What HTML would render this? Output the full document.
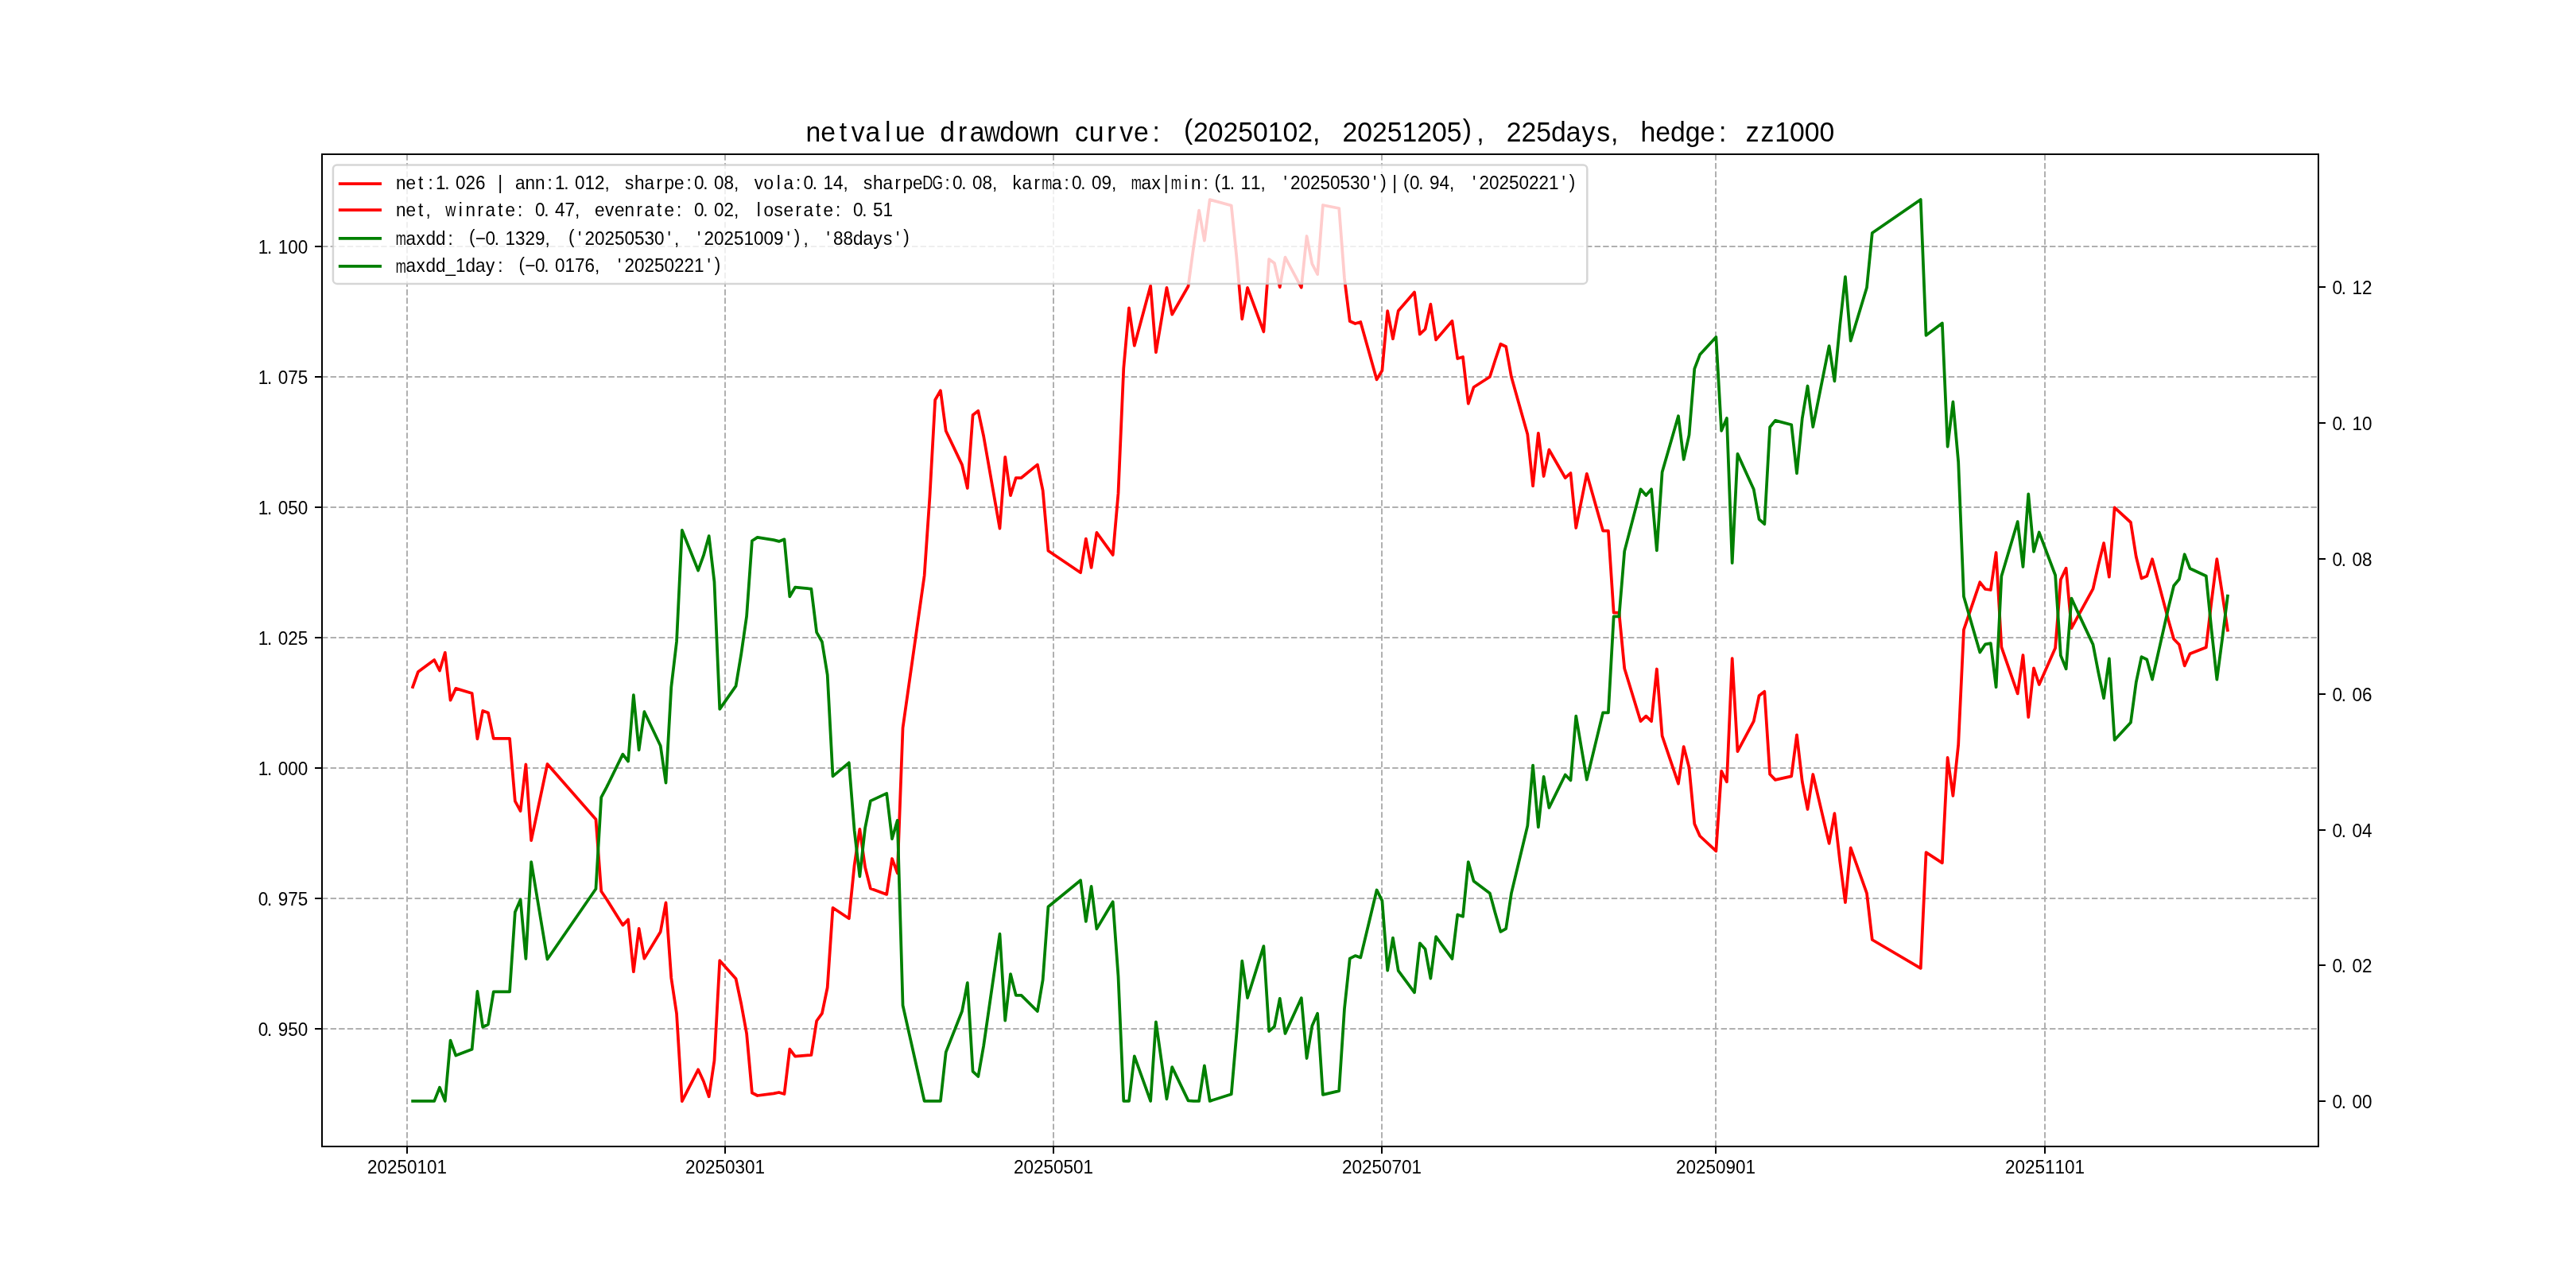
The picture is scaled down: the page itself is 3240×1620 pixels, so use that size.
<!DOCTYPE html><html><head><meta charset="utf-8"><style>html,body{margin:0;padding:0;background:#fff;overflow:hidden}svg{display:block;will-change:transform}</style></head><body><svg width="3240" height="1620" viewBox="0 0 3240 1620" font-family="&quot;Liberation Sans&quot;, sans-serif"><rect x="0" y="0" width="3240" height="1620" fill="#fff"/><g stroke="#b0b0b0" stroke-width="2" stroke-dasharray="7.4 3.2" fill="none"><path d="M512,1442 L512,194"/><path d="M912,1442 L912,194"/><path d="M1325,1442 L1325,194"/><path d="M1738,1442 L1738,194"/><path d="M2158,1442 L2158,194"/><path d="M2572,1442 L2572,194"/><path d="M405,310 L2916,310"/><path d="M405,474 L2916,474"/><path d="M405,638 L2916,638"/><path d="M405,802 L2916,802"/><path d="M405,966 L2916,966"/><path d="M405,1130 L2916,1130"/><path d="M405,1294 L2916,1294"/></g><path d="M519.14,864.00 L525.91,845.00 L546.23,830.00 L553.00,843.50 L559.78,820.80 L566.55,880.70 L573.33,865.90 L593.65,872.00 L600.42,929.30 L607.19,894.00 L613.97,896.50 L620.74,928.80 L641.06,928.80 L647.84,1007.60 L654.61,1020.00 L661.38,961.50 L668.16,1057.20 L688.48,961.00 L749.44,1030.50 L756.21,1121.00 L762.99,1131.00 L783.31,1163.60 L790.08,1156.60 L796.86,1222.20 L803.63,1167.80 L810.40,1205.60 L830.73,1172.00 L837.50,1135.40 L844.27,1230.00 L851.05,1275.00 L857.82,1385.10 L878.14,1345.30 L884.91,1360.00 L891.69,1379.30 L898.46,1334.00 L905.24,1208.20 L925.56,1231.00 L932.33,1263.00 L939.10,1300.00 L945.88,1374.50 L952.65,1378.00 L972.97,1375.40 L979.75,1374.00 L986.52,1376.00 L993.29,1319.50 L1000.07,1328.60 L1020.39,1327.00 L1027.16,1284.00 L1033.94,1274.70 L1040.71,1242.00 L1047.48,1141.80 L1067.80,1155.20 L1074.58,1088.50 L1081.35,1042.80 L1088.12,1090.80 L1094.90,1117.50 L1115.22,1124.90 L1121.99,1080.00 L1128.77,1098.20 L1135.54,915.40 L1162.63,724.00 L1169.41,625.00 L1176.18,503.00 L1182.96,491.30 L1189.73,542.00 L1210.05,584.60 L1216.82,614.00 L1223.60,522.00 L1230.37,516.80 L1237.15,548.50 L1257.47,664.60 L1264.24,574.80 L1271.01,623.10 L1277.79,601.00 L1284.56,601.00 L1304.88,584.40 L1311.66,617.00 L1318.43,692.80 L1359.07,720.20 L1365.85,677.60 L1372.62,713.90 L1379.39,669.80 L1399.71,697.90 L1406.49,620.70 L1413.26,463.40 L1420.03,387.40 L1426.81,434.70 L1447.13,359.60 L1453.90,443.20 L1460.68,403.00 L1467.45,361.80 L1474.22,395.50 L1494.54,360.00 L1501.32,310.00 L1508.09,264.70 L1514.87,302.60 L1521.64,251.10 L1548.73,258.50 L1555.51,325.00 L1562.28,401.30 L1569.06,361.80 L1589.38,417.20 L1596.15,326.00 L1602.92,331.00 L1609.70,361.10 L1616.47,323.60 L1636.79,361.60 L1643.57,297.00 L1650.34,331.80 L1657.11,345.00 L1663.89,258.00 L1684.21,262.00 L1690.98,350.00 L1697.75,404.00 L1704.53,407.00 L1711.30,405.00 L1731.62,477.40 L1738.40,466.00 L1745.17,391.20 L1751.94,426.20 L1758.72,391.00 L1779.04,367.60 L1785.81,420.40 L1792.59,414.00 L1799.36,382.70 L1806.13,427.40 L1826.45,403.70 L1833.23,451.00 L1840.00,449.00 L1846.78,507.60 L1853.55,487.00 L1873.87,474.00 L1880.64,452.70 L1887.42,432.70 L1894.19,436.00 L1900.97,474.10 L1921.29,546.30 L1928.06,611.20 L1934.83,544.80 L1941.61,599.00 L1948.38,565.70 L1968.70,601.00 L1975.48,595.10 L1982.25,664.00 L1989.02,629.80 L1995.80,595.80 L2016.12,667.60 L2022.89,667.60 L2029.66,770.70 L2036.44,770.70 L2043.21,840.70 L2063.53,907.20 L2070.31,900.70 L2077.08,907.20 L2083.85,841.50 L2090.63,925.70 L2110.95,985.70 L2117.72,939.10 L2124.50,965.30 L2131.27,1036.30 L2138.04,1051.50 L2158.36,1070.40 L2165.14,969.90 L2171.91,983.40 L2178.69,828.10 L2185.46,945.10 L2205.78,907.10 L2212.55,875.00 L2219.33,869.80 L2226.10,973.80 L2232.87,980.90 L2253.20,976.30 L2259.97,924.30 L2266.74,982.90 L2273.52,1017.90 L2280.29,974.00 L2300.61,1060.90 L2307.39,1023.20 L2314.16,1083.00 L2320.93,1135.00 L2327.71,1066.30 L2348.03,1123.70 L2354.80,1182.00 L2415.76,1217.80 L2422.54,1072.20 L2442.86,1085.30 L2449.63,952.90 L2456.41,1000.90 L2463.18,936.50 L2469.95,792.20 L2490.27,732.30 L2497.05,741.00 L2503.82,742.00 L2510.60,695.00 L2517.37,813.90 L2537.69,872.40 L2544.46,824.00 L2551.24,902.00 L2558.01,840.30 L2564.78,861.00 L2585.11,815.00 L2591.88,729.00 L2598.65,714.60 L2605.43,790.20 L2612.20,777.60 L2632.52,740.70 L2639.30,710.60 L2646.07,683.10 L2652.84,725.60 L2659.62,638.30 L2679.94,657.00 L2686.71,700.00 L2693.48,727.50 L2700.26,724.60 L2707.03,703.20 L2727.35,780.00 L2734.13,803.70 L2740.90,810.70 L2747.67,837.40 L2754.45,822.30 L2774.77,814.20 L2781.54,756.50 L2788.32,703.20 L2795.09,746.70 L2801.86,792.70" fill="none" stroke="#ff0000" stroke-width="3.75" stroke-linejoin="round" stroke-linecap="square"/><rect x="418.9" y="207.5" width="1577.4" height="149.4" rx="5" ry="5" fill="#ffffff" fill-opacity="0.8" stroke="#cccccc" stroke-opacity="0.8" stroke-width="2.5"/><path d="M427.7,231.0 L478.1,231.0" stroke="#ff0000" stroke-width="3.75" stroke-linecap="square"/><g font-size="24.0" fill="#000" transform="matrix(0.9375000000000001,0,0,1,31.125,0)"><text x="497.99 511.33 528.00 541.33 551.33 563.47 577.99 591.33 604.66 634.88 657.99 671.33 684.66 701.33 711.33 723.47 737.99 751.33 764.66 778.00 805.33 817.99 831.33 847.34 857.99 871.33 888.00 897.99 910.13 924.66 937.99 951.33 978.67 991.33 1008.67 1017.99 1034.67 1044.66 1056.80 1071.33 1084.66 1098.00 1125.33 1137.99 1151.33 1167.34 1177.99 1191.33 1234.67 1244.66 1256.80 1271.33 1284.66 1298.00 1325.33 1337.99 1354.00 1377.99 1394.67 1404.66 1416.80 1431.33 1444.66 1458.00 1497.99 1512.00 1528.22 1555.33 1564.66 1581.33 1596.14 1604.66 1616.80 1631.33 1644.66 1658.00 1689.04 1697.99 1711.33 1724.66 1737.99 1751.33 1764.66 1777.99 1791.33 1809.04 1818.80 1834.88 1849.47 1857.99 1870.13 1884.66 1897.99 1911.33 1942.38 1951.33 1964.66 1977.99 1991.33 2004.66 2017.99 2031.33 2044.66 2062.38 2072.14" y="238.30 238.30 238.30 238.30 238.30 238.30 238.30 238.30 238.30 238.30 238.30 238.30 238.30 238.30 238.30 238.30 238.30 238.30 238.30 238.30 238.30 238.30 238.30 238.30 238.30 238.30 238.30 238.30 238.30 238.30 238.30 238.30 238.30 238.30 238.30 238.30 238.30 238.30 238.30 238.30 238.30 238.30 238.30 238.30 238.30 238.30 238.30 238.30 238.30 238.30 238.30 238.30 238.30 238.30 238.30 238.30 238.30 238.30 238.30 238.30 238.30 238.30 238.30 238.30 238.30 238.30 238.30 238.30 238.30 238.30 236.62 238.30 238.30 238.30 238.30 238.30 238.30 238.30 238.30 238.30 238.30 238.30 238.30 238.30 238.30 238.30 236.62 238.30 236.62 238.30 238.30 238.30 238.30 238.30 238.30 238.30 238.30 238.30 238.30 238.30 238.30 238.30 238.30 238.30 236.62">net:1.026|ann:1.012,sharpe:0.08,vola:0.14,sharpe:0.08,kara:0.09,ax|in:(1.11,&#39;20250530&#39;)|(0.94,&#39;20250221&#39;)</text><text transform="translate(1211.33,238.30) scale(0.808,1)" text-anchor="middle">D</text><text transform="translate(1224.67,238.30) scale(0.750,1)" text-anchor="middle">G</text><text transform="translate(1371.33,238.30) scale(0.700,1)" text-anchor="middle">m</text><text transform="translate(1491.33,238.30) scale(0.700,1)" text-anchor="middle">m</text><text transform="translate(1544.67,238.30) scale(0.700,1)" text-anchor="middle">m</text></g><path d="M427.7,264.0 L478.1,264.0" stroke="#ff0000" stroke-width="3.75" stroke-linecap="square"/><g font-size="24.0" fill="#000" transform="matrix(0.9375000000000001,0,0,1,31.125,0)"><text x="497.99 511.33 528.00 538.00 582.00 591.33 607.34 617.99 634.67 644.66 661.33 684.66 696.80 711.33 724.66 738.00 764.66 778.67 791.33 804.66 820.67 831.33 848.00 857.99 874.67 897.99 910.13 924.66 937.99 951.33 982.00 991.33 1005.33 1017.99 1034.00 1044.66 1061.33 1071.33 1088.00 1111.33 1123.47 1137.99 1151.33" y="271.90 271.90 271.90 271.90 271.90 271.90 271.90 271.90 271.90 271.90 271.90 271.90 271.90 271.90 271.90 271.90 271.90 271.90 271.90 271.90 271.90 271.90 271.90 271.90 271.90 271.90 271.90 271.90 271.90 271.90 271.90 271.90 271.90 271.90 271.90 271.90 271.90 271.90 271.90 271.90 271.90 271.90 271.90">net,inrate:0.47,evenrate:0.02,loserate:0.51</text><text transform="translate(571.33,271.90) scale(0.808,1)" text-anchor="middle">w</text></g><path d="M427.7,299.9 L478.1,299.9" stroke="#008000" stroke-width="3.75" stroke-linecap="square"/><g font-size="24.0" fill="#000" transform="matrix(0.9375000000000001,0,0,1,31.125,0)"><text x="511.33 525.33 537.99 551.33 568.00 596.14 604.33 617.99 630.13 644.66 657.99 671.33 684.66 698.00 729.47 742.38 751.33 764.66 777.99 791.33 804.66 817.99 831.33 844.66 862.38 871.33 902.38 911.33 924.66 937.99 951.33 964.66 977.99 991.33 1004.66 1022.38 1032.14 1044.67 1075.71 1084.66 1097.99 1111.33 1124.66 1138.67 1152.00 1169.04 1178.80" y="307.60 307.60 307.60 307.60 307.60 305.92 307.60 307.60 307.60 307.60 307.60 307.60 307.60 307.60 305.92 307.60 307.60 307.60 307.60 307.60 307.60 307.60 307.60 307.60 307.60 307.60 307.60 307.60 307.60 307.60 307.60 307.60 307.60 307.60 307.60 307.60 305.92 307.60 307.60 307.60 307.60 307.60 307.60 307.60 307.60 307.60 305.92">axdd:(−0.1329,(&#39;20250530&#39;,&#39;20251009&#39;),&#39;88days&#39;)</text><text transform="translate(504.67,307.60) scale(0.700,1)" text-anchor="middle">m</text></g><path d="M427.7,334.9 L478.1,334.9" stroke="#008000" stroke-width="3.75" stroke-linecap="square"/><g font-size="24.0" fill="#000" transform="matrix(0.9375000000000001,0,0,1,31.125,0)"><text x="511.33 525.33 537.99 551.33 564.66 577.99 591.33 604.66 618.67 634.67 662.80 670.99 684.66 696.80 711.33 724.66 737.99 751.33 764.67 795.71 804.66 817.99 831.33 844.66 857.99 871.33 884.66 897.99 915.71 925.47" y="342.50 342.50 342.50 342.50 342.50 342.50 342.50 342.50 342.50 342.50 340.82 342.50 342.50 342.50 342.50 342.50 342.50 342.50 342.50 342.50 342.50 342.50 342.50 342.50 342.50 342.50 342.50 342.50 342.50 340.82">axdd_1day:(−0.0176,&#39;20250221&#39;)</text><text transform="translate(504.67,342.50) scale(0.700,1)" text-anchor="middle">m</text></g><path d="M519.14,1384.90 L525.91,1384.90 L546.23,1384.90 L553.00,1367.70 L559.78,1384.90 L566.55,1308.67 L573.33,1327.51 L593.65,1319.74 L600.42,1246.83 L607.19,1291.75 L613.97,1288.57 L620.74,1247.46 L641.06,1247.46 L647.84,1147.18 L654.61,1131.40 L661.38,1205.85 L668.16,1084.06 L688.48,1206.49 L749.44,1118.04 L756.21,1002.87 L762.99,990.15 L783.31,948.66 L790.08,957.57 L796.86,874.09 L803.63,943.32 L810.40,895.21 L830.73,937.97 L837.50,984.55 L844.27,864.16 L851.05,806.90 L857.82,666.79 L878.14,717.44 L884.91,698.73 L891.69,674.17 L898.46,731.82 L905.24,891.91 L925.56,862.89 L932.33,822.17 L939.10,775.08 L945.88,680.28 L952.65,675.82 L972.97,679.13 L979.75,680.91 L986.52,678.37 L993.29,750.27 L1000.07,738.69 L1020.39,740.72 L1027.16,795.44 L1033.94,807.28 L1040.71,848.89 L1047.48,976.40 L1067.80,959.35 L1074.58,1044.23 L1081.35,1102.39 L1088.12,1041.31 L1094.90,1007.33 L1115.22,997.91 L1121.99,1055.05 L1128.77,1031.89 L1135.54,1264.51 L1162.63,1384.90 L1169.41,1384.90 L1176.18,1384.90 L1182.96,1384.90 L1189.73,1323.40 L1210.05,1271.73 L1216.82,1236.07 L1223.60,1347.66 L1230.37,1353.97 L1237.15,1315.52 L1257.47,1174.69 L1264.24,1283.62 L1271.01,1225.03 L1277.79,1251.84 L1284.56,1251.84 L1304.88,1271.97 L1311.66,1232.43 L1318.43,1140.49 L1359.07,1107.25 L1365.85,1158.92 L1372.62,1114.89 L1379.39,1168.39 L1399.71,1134.30 L1406.49,1227.94 L1413.26,1384.90 L1420.03,1384.90 L1426.81,1328.36 L1447.13,1384.90 L1453.90,1285.36 L1460.68,1333.22 L1467.45,1382.28 L1474.22,1342.15 L1494.54,1384.42 L1501.32,1384.90 L1508.09,1384.90 L1514.87,1340.36 L1521.64,1384.90 L1548.73,1376.22 L1555.51,1298.22 L1562.28,1208.73 L1569.06,1255.06 L1589.38,1190.08 L1596.15,1297.05 L1602.92,1291.18 L1609.70,1255.88 L1616.47,1299.86 L1636.79,1255.29 L1643.57,1331.06 L1650.34,1290.25 L1657.11,1274.76 L1663.89,1376.81 L1684.21,1372.12 L1690.98,1268.90 L1697.75,1205.56 L1704.53,1202.04 L1711.30,1204.39 L1731.62,1119.47 L1738.40,1132.84 L1745.17,1220.57 L1751.94,1179.52 L1758.72,1220.81 L1779.04,1248.26 L1785.81,1186.33 L1792.59,1193.83 L1799.36,1230.54 L1806.13,1178.12 L1826.45,1205.91 L1833.23,1150.43 L1840.00,1152.78 L1846.78,1084.05 L1853.55,1108.21 L1873.87,1123.46 L1880.64,1148.44 L1887.42,1171.90 L1894.19,1168.03 L1900.97,1123.34 L1921.29,1038.66 L1928.06,962.53 L1934.83,1040.42 L1941.61,976.84 L1948.38,1015.90 L1968.70,974.50 L1975.48,981.42 L1982.25,900.60 L1989.02,940.72 L1995.80,980.60 L2016.12,896.38 L2022.89,896.38 L2029.66,775.45 L2036.44,775.45 L2043.21,693.35 L2063.53,615.35 L2070.31,622.98 L2077.08,615.35 L2083.85,692.41 L2090.63,593.65 L2110.95,523.28 L2117.72,577.94 L2124.50,547.21 L2131.27,463.93 L2138.04,446.10 L2158.36,423.93 L2165.14,541.81 L2171.91,525.98 L2178.69,708.13 L2185.46,570.90 L2205.78,615.47 L2212.55,653.12 L2219.33,659.22 L2226.10,537.24 L2232.87,528.91 L2253.20,534.30 L2259.97,595.29 L2266.74,526.56 L2273.52,485.51 L2280.29,537.00 L2300.61,435.07 L2307.39,479.29 L2314.16,409.15 L2320.93,348.16 L2327.71,428.74 L2348.03,361.42 L2354.80,293.03 L2415.76,251.04 L2422.54,421.82 L2442.86,406.46 L2449.63,561.75 L2456.41,505.45 L2463.18,580.99 L2469.95,750.24 L2490.27,820.49 L2497.05,810.29 L2503.82,809.12 L2510.60,864.24 L2517.37,724.78 L2537.69,656.17 L2544.46,712.94 L2551.24,621.45 L2558.01,693.82 L2564.78,669.54 L2585.11,723.49 L2591.88,824.36 L2598.65,841.25 L2605.43,752.58 L2612.20,767.36 L2632.52,810.64 L2639.30,845.95 L2646.07,878.20 L2652.84,828.35 L2659.62,930.75 L2679.94,908.81 L2686.71,858.38 L2693.48,826.12 L2700.26,829.53 L2707.03,854.63 L2727.35,764.55 L2734.13,736.75 L2740.90,728.54 L2747.67,697.22 L2754.45,714.93 L2774.77,724.43 L2781.54,792.11 L2788.32,854.63 L2795.09,803.60 L2801.86,749.65" fill="none" stroke="#008000" stroke-width="3.75" stroke-linejoin="round" stroke-linecap="square"/><rect x="405" y="194" width="2511" height="1248" fill="none" stroke="#000" stroke-width="2"/><g stroke="#000" stroke-width="2"><path d="M512,1442 L512,1451"/><path d="M912,1442 L912,1451"/><path d="M1325,1442 L1325,1451"/><path d="M1738,1442 L1738,1451"/><path d="M2158,1442 L2158,1451"/><path d="M2572,1442 L2572,1451"/><path d="M396,310 L405,310"/><path d="M396,474 L405,474"/><path d="M396,638 L405,638"/><path d="M396,802 L405,802"/><path d="M396,966 L405,966"/><path d="M396,1130 L405,1130"/><path d="M396,1294 L405,1294"/><path d="M2916,1385 L2925,1385"/><path d="M2916,1214 L2925,1214"/><path d="M2916,1044 L2925,1044"/><path d="M2916,873 L2925,873"/><path d="M2916,703 L2925,703"/><path d="M2916,532 L2925,532"/><path d="M2916,361 L2925,361"/></g><g font-size="24.0" fill="#000" transform="matrix(0.9375000000000001,0,0,1,28.875,0)"><text x="461.99 475.33 488.66 501.99 515.33 528.66 541.99 555.33" y="1476.50 1476.50 1476.50 1476.50 1476.50 1476.50 1476.50 1476.50">20250101</text></g><g font-size="24.0" fill="#000" transform="matrix(0.9375000000000001,0,0,1,53.875,0)"><text x="861.99 875.33 888.66 901.99 915.33 928.66 941.99 955.33" y="1476.50 1476.50 1476.50 1476.50 1476.50 1476.50 1476.50 1476.50">20250301</text></g><g font-size="24.0" fill="#000" transform="matrix(0.9375000000000001,0,0,1,79.687,0)"><text x="1274.99 1288.33 1301.66 1314.99 1328.33 1341.66 1354.99 1368.33" y="1476.50 1476.50 1476.50 1476.50 1476.50 1476.50 1476.50 1476.50">20250501</text></g><g font-size="24.0" fill="#000" transform="matrix(0.9375000000000001,0,0,1,105.500,0)"><text x="1687.99 1701.33 1714.66 1727.99 1741.33 1754.66 1767.99 1781.33" y="1476.50 1476.50 1476.50 1476.50 1476.50 1476.50 1476.50 1476.50">20250701</text></g><g font-size="24.0" fill="#000" transform="matrix(0.9375000000000001,0,0,1,131.750,0)"><text x="2107.99 2121.33 2134.66 2147.99 2161.33 2174.66 2187.99 2201.33" y="1476.50 1476.50 1476.50 1476.50 1476.50 1476.50 1476.50 1476.50">20250901</text></g><g font-size="24.0" fill="#000" transform="matrix(0.9375000000000001,0,0,1,157.625,0)"><text x="2521.99 2535.33 2548.66 2561.99 2575.33 2588.66 2601.99 2615.33" y="1476.50 1476.50 1476.50 1476.50 1476.50 1476.50 1476.50 1476.50">20251101</text></g><g font-size="24.0" fill="#000" transform="matrix(0.9375000000000001,0,0,1,20.297,0)"><text x="324.74 336.88 351.41 364.74 378.08" y="318.60 318.60 318.60 318.60 318.60">1.100</text></g><g font-size="24.0" fill="#000" transform="matrix(0.9375000000000001,0,0,1,20.297,0)"><text x="324.74 336.88 351.41 364.74 378.08" y="482.60 482.60 482.60 482.60 482.60">1.075</text></g><g font-size="24.0" fill="#000" transform="matrix(0.9375000000000001,0,0,1,20.297,0)"><text x="324.74 336.88 351.41 364.74 378.08" y="646.60 646.60 646.60 646.60 646.60">1.050</text></g><g font-size="24.0" fill="#000" transform="matrix(0.9375000000000001,0,0,1,20.297,0)"><text x="324.74 336.88 351.41 364.74 378.08" y="810.60 810.60 810.60 810.60 810.60">1.025</text></g><g font-size="24.0" fill="#000" transform="matrix(0.9375000000000001,0,0,1,20.297,0)"><text x="324.74 336.88 351.41 364.74 378.08" y="974.60 974.60 974.60 974.60 974.60">1.000</text></g><g font-size="24.0" fill="#000" transform="matrix(0.9375000000000001,0,0,1,20.297,0)"><text x="324.74 336.88 351.41 364.74 378.08" y="1138.60 1138.60 1138.60 1138.60 1138.60">0.975</text></g><g font-size="24.0" fill="#000" transform="matrix(0.9375000000000001,0,0,1,20.297,0)"><text x="324.74 336.88 351.41 364.74 378.08" y="1302.60 1302.60 1302.60 1302.60 1302.60">0.950</text></g><g font-size="24.0" fill="#000" transform="matrix(0.9375000000000001,0,0,1,183.344,0)"><text x="2933.49 2945.63 2960.16 2973.49" y="1393.60 1393.60 1393.60 1393.60">0.00</text></g><g font-size="24.0" fill="#000" transform="matrix(0.9375000000000001,0,0,1,183.344,0)"><text x="2933.49 2945.63 2960.16 2973.49" y="1222.60 1222.60 1222.60 1222.60">0.02</text></g><g font-size="24.0" fill="#000" transform="matrix(0.9375000000000001,0,0,1,183.344,0)"><text x="2933.49 2945.63 2960.16 2973.49" y="1052.60 1052.60 1052.60 1052.60">0.04</text></g><g font-size="24.0" fill="#000" transform="matrix(0.9375000000000001,0,0,1,183.344,0)"><text x="2933.49 2945.63 2960.16 2973.49" y="881.60 881.60 881.60 881.60">0.06</text></g><g font-size="24.0" fill="#000" transform="matrix(0.9375000000000001,0,0,1,183.344,0)"><text x="2933.49 2945.63 2960.16 2973.49" y="711.60 711.60 711.60 711.60">0.08</text></g><g font-size="24.0" fill="#000" transform="matrix(0.9375000000000001,0,0,1,183.344,0)"><text x="2933.49 2945.63 2960.16 2973.49" y="540.60 540.60 540.60 540.60">0.10</text></g><g font-size="24.0" fill="#000" transform="matrix(0.9375000000000001,0,0,1,183.344,0)"><text x="2933.49 2945.63 2960.16 2973.49" y="369.60 369.60 369.60 369.60">0.12</text></g><g font-size="36.0" fill="#000" transform="matrix(0.9375000000000001,0,0,1,63.352,0)"><text x="1013.61 1033.61 1058.62 1074.62 1093.61 1119.63 1133.61 1153.61 1193.61 1217.63 1233.61 1273.61 1293.61 1333.61 1374.62 1393.61 1417.63 1434.62 1453.61 1478.62 1520.83 1533.61 1553.61 1573.61 1593.61 1613.61 1633.61 1653.61 1673.61 1693.62 1733.61 1753.61 1773.61 1793.61 1813.61 1833.61 1853.61 1873.61 1894.83 1913.62 1953.61 1973.61 1993.61 2013.61 2033.61 2054.62 2074.62 2093.62 2133.61 2153.61 2173.61 2193.61 2213.61 2238.62 2274.62 2294.62 2313.61 2333.61 2353.61 2373.61" y="178.00 178.00 178.00 178.00 178.00 178.00 178.00 178.00 178.00 178.00 178.00 178.00 178.00 178.00 178.00 178.00 178.00 178.00 178.00 178.00 175.48 178.00 178.00 178.00 178.00 178.00 178.00 178.00 178.00 178.00 178.00 178.00 178.00 178.00 178.00 178.00 178.00 178.00 175.48 178.00 178.00 178.00 178.00 178.00 178.00 178.00 178.00 178.00 178.00 178.00 178.00 178.00 178.00 178.00 178.00 178.00 178.00 178.00 178.00 178.00">netvaluedradoncurve:(20250102,20251205),225days,hedge:zz1000</text><text transform="translate(1263.62,178.00) scale(0.808,1)" text-anchor="middle">w</text><text transform="translate(1323.62,178.00) scale(0.808,1)" text-anchor="middle">w</text></g></svg></body></html>
